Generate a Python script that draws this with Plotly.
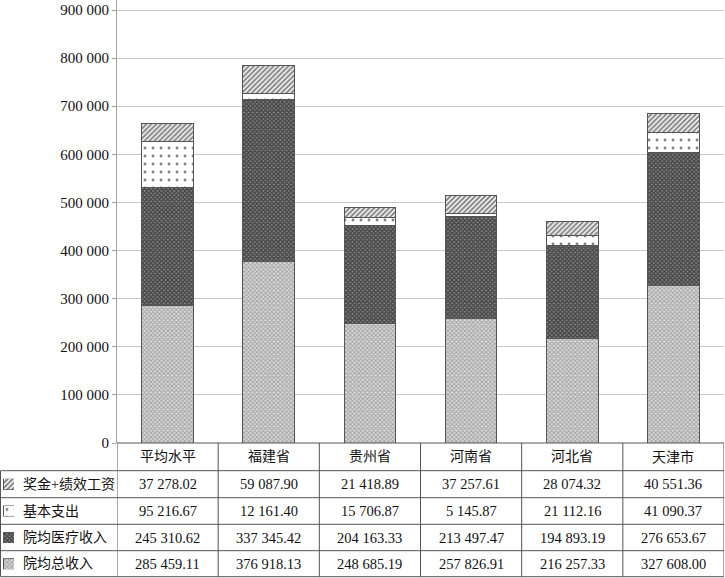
import plotly.graph_objects as go

categories = ["平均水平", "福建省", "贵州省", "河南省", "河北省", "天津市"]
series_names = ["奖金+绩效工资", "基本支出", "院均医疗收入", "院均总收入"]
bonus = [37278.02, 59087.90, 21418.89, 37257.61, 28074.32, 40551.36]
basic = [95216.67, 12161.40, 15706.87, 5145.87, 21112.16, 41090.37]
medical = [245310.62, 337345.42, 204163.33, 213497.47, 194893.19, 276653.67]
total = [285459.11, 376918.13, 248685.19, 257826.91, 216257.33, 327608.00]
y_ticks = [0, 100000, 200000, 300000, 400000, 500000, 600000, 700000, 800000, 900000]

W, H = 725, 578
X0, X1 = 117, 724
Y0, YTOP = 443, 0
rows = [443, 470.7, 497.7, 524.3, 550.7, 576.7]

def fx(px):
    return px / W

def fy(py):
    return 1 - py / H

FONT = "'Liberation Serif', 'Times New Roman', 'Noto Sans CJK SC', serif"
LINE = "#555555"

patterns = {
    "奖金+绩效工资": dict(shape="/", size=3.5, solidity=0.55, fgcolor="#000000", bgcolor="white"),
    "基本支出": dict(shape=".", size=8, solidity=0.1, fgcolor="#000000", bgcolor="white"),
    "院均医疗收入": dict(shape="x", size=3, solidity=0.7, fgcolor="#000000", bgcolor="#8c8c8c"),
    "院均总收入": dict(shape="x", size=3, solidity=0.55, fgcolor="#6a6a6a", bgcolor="#dcdcdc"),
}
values = {"奖金+绩效工资": bonus, "基本支出": basic, "院均医疗收入": medical, "院均总收入": total}

fig = go.Figure()
for name in ["院均总收入", "院均医疗收入", "基本支出", "奖金+绩效工资"]:
    fig.add_trace(go.Bar(
        x=categories, y=values[name], name=name, width=0.51,
        marker=dict(color="white", pattern=patterns[name], line=dict(color=LINE, width=1)),
        showlegend=False, hoverinfo="skip",
    ))

ymax = 900000 * (Y0 - YTOP) / (Y0 - 10)

fig.update_layout(
    width=W, height=H,
    margin=dict(l=0, r=0, t=0, b=0),
    paper_bgcolor="white", plot_bgcolor="white",
    barmode="stack",
    separators=". ",
    font=dict(family=FONT, size=15, color="#111111"),
    xaxis=dict(domain=[fx(X0), fx(X1)], showticklabels=False, ticks="", showgrid=False,
               zeroline=False, showline=False, automargin=False, range=[-0.5, 5.5]),
    yaxis=dict(domain=[fy(Y0), fy(YTOP)], range=[0, ymax], tickvals=y_ticks, tickformat=",d",
               showgrid=True, gridcolor="#c8c8c8", gridwidth=1, zeroline=False,
               showline=True, linecolor="#a0a0a0", linewidth=1,
               ticks="outside", ticklen=4, tickcolor="#a0a0a0",
               tickfont=dict(family=FONT, size=15, color="#111111"), automargin=False),
)

shapes = []
shapes.append(dict(type="line", xref="paper", yref="paper", x0=fx(X0), x1=fx(X1), y0=fy(rows[0]), y1=fy(rows[0]),
                   line=dict(color=LINE, width=1)))
for r in rows[1:]:
    shapes.append(dict(type="line", xref="paper", yref="paper", x0=fx(0.5), x1=fx(X1), y0=fy(r), y1=fy(r),
                       line=dict(color=LINE, width=1)))
shapes.append(dict(type="line", xref="paper", yref="paper", x0=fx(0.5), x1=fx(0.5), y0=fy(rows[1]), y1=fy(rows[-1]),
                   line=dict(color=LINE, width=1)))
for k in range(len(categories) + 1):
    shapes.append(dict(type="line", xref="x", yref="paper", x0=k - 0.5, x1=k - 0.5, y0=fy(rows[0]), y1=fy(rows[-1]),
                       line=dict(color=LINE, width=1)))

annotations = []
hc = (rows[0] + rows[1]) / 2
for c in categories:
    annotations.append(dict(x=c, xref="x", y=fy(hc), yref="paper", text=c, showarrow=False,
                            font=dict(family=FONT, size=14, color="#111111"), xanchor="center", yanchor="middle"))

def fmt(v):
    return f"{v:,.2f}".replace(",", " ")

for i, name in enumerate(series_names):
    rc = (rows[i + 1] + rows[i + 2]) / 2
    annotations.append(dict(x=fx(21), xref="paper", y=fy(rc), yref="paper", text=name, showarrow=False,
                            font=dict(family=FONT, size=14, color="#111111"), xanchor="left", yanchor="middle"))
    for c, v in zip(categories, values[name]):
        annotations.append(dict(x=c, xref="x", y=fy(rc), yref="paper", text=fmt(v), showarrow=False,
                                font=dict(family=FONT, size=14.5, color="#111111"), xanchor="center", yanchor="middle"))
    ax = i + 2
    fig.add_trace(go.Bar(
        x=[0], y=[1], width=1, xaxis=f"x{ax}", yaxis=f"y{ax}", showlegend=False, hoverinfo="skip",
        marker=dict(color="white", pattern=patterns[name], line=dict(color=LINE, width=1)),
    ))
    fig.update_layout(**{
        f"xaxis{ax}": dict(domain=[fx(3), fx(14)], range=[-0.5, 0.5], visible=False, anchor=f"y{ax}", fixedrange=True),
        f"yaxis{ax}": dict(domain=[fy(rc + 5.5), fy(rc - 5.5)], range=[0, 1], visible=False, anchor=f"x{ax}", fixedrange=True),
    })

fig.update_layout(shapes=shapes, annotations=annotations)
fig.write_html("out.html", config=dict(displayModeBar=False),
               post_script="document.body.style.margin='0';document.body.style.overflow='hidden';")
